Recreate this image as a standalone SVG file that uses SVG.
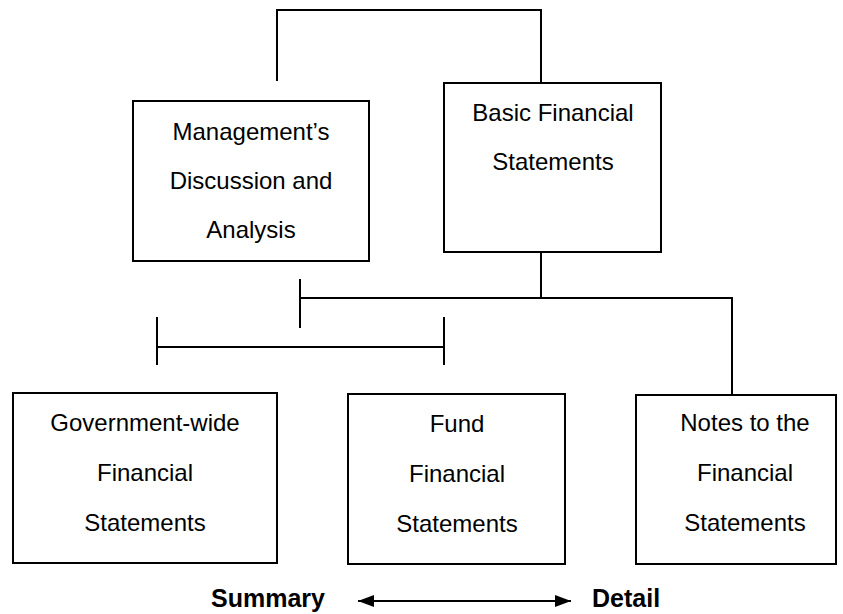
<svg xmlns="http://www.w3.org/2000/svg" width="843" height="614" viewBox="0 0 843 614">
<style>
.box{fill:#fff;stroke:#000;stroke-width:2}
.ln{fill:none;stroke:#000;stroke-width:2}
.t{font-family:"Liberation Sans",Arial,sans-serif;font-size:24px;fill:#000;text-anchor:middle}
.b{font-family:"Liberation Sans",Arial,sans-serif;font-size:25px;font-weight:bold;fill:#000}
</style>
<defs>
<marker id="ah" viewBox="0 0 16 12" refX="16" refY="6" markerWidth="16" markerHeight="12" markerUnits="userSpaceOnUse" orient="auto-start-reverse">
<path d="M0,0 L16,6 L0,12 Z" fill="#000"/>
</marker>
</defs>
<rect width="843" height="614" fill="#fff"/>
<g id="connectors">
<path class="ln" d="M277,81 V10 H541 V83"/>
<path class="ln" d="M541,252 V298"/>
<path class="ln" d="M300,279 V328 M300,298 H732 V395"/>
<path class="ln" d="M157,317 V365 M444,317 V365 M157,347 H444"/>
<line class="ln" x1="358" y1="601" x2="571" y2="601" marker-start="url(#ah)" marker-end="url(#ah)"/>
</g>
<g id="mda">
<rect class="box" x="133" y="101" width="236" height="160"/>
<text class="t" x="251" y="140">Management’s</text>
<text class="t" x="251" y="189">Discussion and</text>
<text class="t" x="251" y="238">Analysis</text>
</g>
<g id="basic">
<rect class="box" x="444" y="83" width="217" height="169"/>
<text class="t" x="553" y="121">Basic Financial</text>
<text class="t" x="553" y="170">Statements</text>
</g>
<g id="govwide">
<rect class="box" x="13" y="393" width="264" height="170"/>
<text class="t" x="145" y="431">Government-wide</text>
<text class="t" x="145" y="481">Financial</text>
<text class="t" x="145" y="531">Statements</text>
</g>
<g id="fund">
<rect class="box" x="348" y="394" width="217" height="170"/>
<text class="t" x="457" y="432">Fund</text>
<text class="t" x="457" y="482">Financial</text>
<text class="t" x="457" y="532">Statements</text>
</g>
<g id="notes">
<rect class="box" x="636" y="395" width="200" height="169"/>
<text class="t" x="745" y="431">Notes to the</text>
<text class="t" x="745" y="481">Financial</text>
<text class="t" x="745" y="531">Statements</text>
</g>
<g id="scale">
<text class="b" x="325" y="607" text-anchor="end">Summary</text>
<text class="b" x="592" y="607">Detail</text>
</g>
</svg>
